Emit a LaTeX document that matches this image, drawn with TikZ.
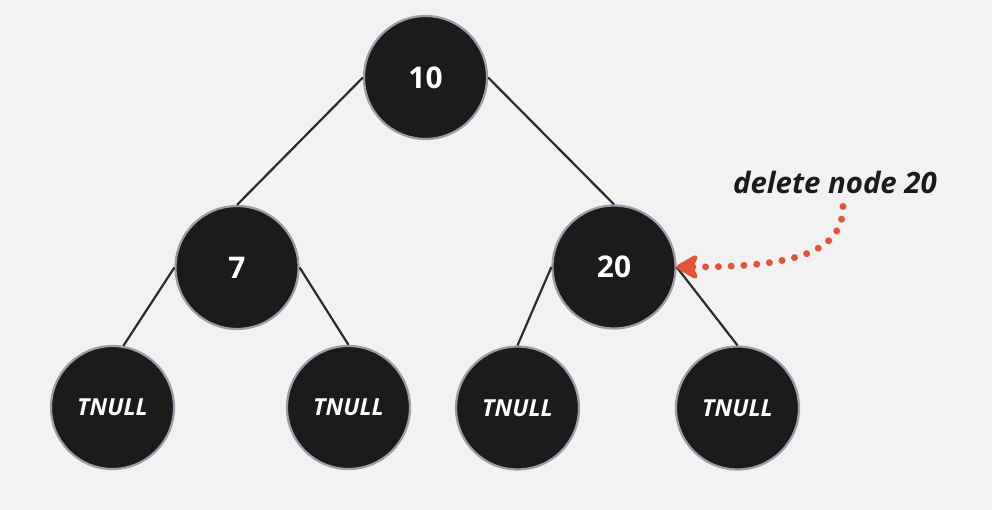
\documentclass[tikz,border=0pt]{standalone}
\usepackage{fontspec}
\setmainfont{Open Sans}
\usetikzlibrary{arrows.meta}

\definecolor{bgcol}{HTML}{F2F2F2}
\definecolor{nodecol}{HTML}{1B1B1B}
\definecolor{rimcol}{HTML}{9C9CAC}
\definecolor{edgecol}{HTML}{2B2B2B}
\definecolor{markcol}{HTML}{E2553A}

\begin{document}
\begin{tikzpicture}
	[
	x=1bp, y=1bp,
	align=center,
	node/.style={circle, fill=nodecol, draw=rimcol, line width=2.2bp, minimum size=123bp, inner sep=0pt, text=white, font=\bfseries\fontsize{30}{30}\selectfont},
	leaf/.style={node, font=\bfseries\itshape\fontsize{23.5}{23.5}\selectfont},
	edge/.style={draw=edgecol, line width=2.2bp},
	dotline/.style={draw=markcol, line width=7bp, line cap=round, dash pattern=on 0pt off 12.8bp, -{Stealth[length=26bp, width=30bp, inset=7bp, round, fill=markcol]}},
	]
		\fill[bgcol] (0,0) rectangle (992,510);
		\useasboundingbox (0,0) rectangle (992,510);

		% root
		\node[node] (n10) at 		( 425.5, 432.5 ) {10};

		% inner nodes
		\node[node] (n7) at 		( 237.0, 242.5 ) {7};
		\node[node] (n20) at 		( 614.0, 243.0 ) {20};

		% leaves
		\node[leaf] (t1) at 		( 112.5, 102.5 ) {TNULL};
		\node[leaf] (t2) at 		( 348.5, 102.5 ) {TNULL};
		\node[leaf] (t3) at 		( 517.5, 102.0 ) {TNULL};
		\node[leaf] (t4) at 		( 737.5, 102.0 ) {TNULL};

		\foreach \from/\to in {n10.west/n7.north,n10.east/n20.north,n7.west/t1.80,n7.east/t2.north,n20.west/t3.north,n20.east/t4.north} \draw[edge] (\from) -- (\to);

		% note
		\node[anchor=base, inner sep=0pt, inner ysep=12bp, text=nodecol, font=\bfseries\itshape\fontsize{29.5}{29.5}\selectfont] (del) at ( 835.0, 316.0 ) {delete node 20};
		\draw[dotline] ([xshift=8bp]del.south) .. controls +(0,-47) and +(115,0) .. (n20.east);

	\end{tikzpicture}
\end{document}
